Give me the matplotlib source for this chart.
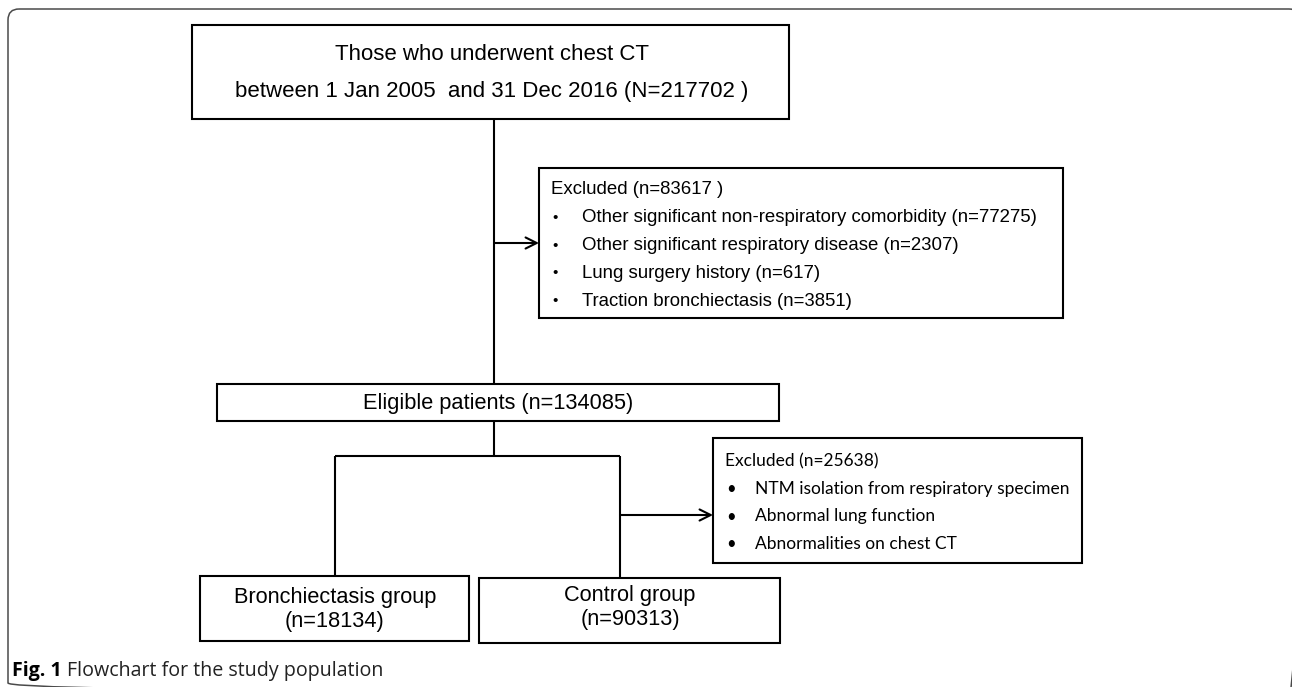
import matplotlib.pyplot as plt
from matplotlib.patches import Rectangle, FancyBboxPatch

# flowchart counts
total_n = 217702
excluded1_n = 83617
excluded1_reasons = ["Other significant non-respiratory comorbidity",
                     "Other significant respiratory disease",
                     "Lung surgery history",
                     "Traction bronchiectasis"]
excluded1_counts = [77275, 2307, 617, 3851]
eligible_n = 134085
excluded2_n = 25638
excluded2_reasons = ["NTM isolation from respiratory specimen",
                     "Abnormal lung function",
                     "Abnormalities on chest CT"]
group_names = ["Bronchiectasis group", "Control group"]
group_counts = [18134, 90313]

W, H = 1292, 687
fig = plt.figure(figsize=(W / 100, H / 100), dpi=100)
ax = fig.add_axes([0, 0, 1, 1])
ax.set_xlim(0, W)
ax.set_ylim(H, 0)
ax.axis("off")
renderer = fig.canvas.get_renderer()

MAIN = "Liberation Sans"
CAL = "Lato"
CAP = "Open Sans"
LW = 1.5


def box(x0, y0, x1, y1):
    ax.add_patch(Rectangle((x0, y0), x1 - x0, y1 - y0, fill=False,
                           edgecolor="black", lw=LW))


def line(xs, ys):
    ax.plot(xs, ys, color="black", lw=LW, solid_capstyle="butt")


def arrow(x0, x1, y):
    ax.annotate("", xy=(x1, y), xytext=(x0, y),
                arrowprops=dict(arrowstyle="->", lw=LW, color="black",
                                mutation_scale=20, shrinkA=0, shrinkB=0))


def width_px(t):
    return t.get_window_extent(renderer).width


def fit_size(s, family, target, weight="normal"):
    # font size that makes string s about `target` pixels wide
    t = ax.text(0, 0, s, fontsize=10, family=family, fontweight=weight)
    w = width_px(t)
    t.remove()
    return 10 * target / w


# outer frame
ax.add_patch(FancyBboxPatch((8, 9), 1292, 685,
                            boxstyle="round,pad=0,rounding_size=11",
                            fill=False, edgecolor="#4a4a4a", lw=1.1))

# top box
box(192, 25, 789, 119)
ax.text(492, 54, "Those who underwent chest CT", ha="center", va="center",
        fontsize=16, family=MAIN)
ax.text(492, 91, f"between 1 Jan 2005  and 31 Dec 2016 (N={total_n} )",
        ha="center", va="center", fontsize=16, family=MAIN)

line([494, 494], [119, 384])
arrow(494, 539, 243)

# first exclusion box
fs1 = 13.4
box(539, 168, 1063, 318)
ax.text(551, 190, f"Excluded (n={excluded1_n} )", va="center",
        fontsize=fs1, family=MAIN)
for i, (r, c) in enumerate(zip(excluded1_reasons, excluded1_counts)):
    y = 218 + i * 27.7
    ax.text(552, y, "\u2022", va="center", fontsize=11, family=MAIN)
    ax.text(582, y, f"{r} (n={c})", va="center", fontsize=fs1, family=MAIN)

# eligible box
box(217, 384, 779, 421)
ax.text(498, 403, f"Eligible patients (n={eligible_n})", ha="center",
        va="center", fontsize=15.7, family=MAIN)

line([494, 494], [421, 456])
line([335, 620], [456, 456])
line([335, 335], [456, 576])
line([620, 620], [456, 578])
arrow(620, 713, 515)

# second exclusion box (Calibri-like font)
fs2 = 0.95 * fit_size(f"Excluded (n={excluded2_n})", CAL, 162)
box(713, 438, 1082, 563)
ax.text(725, 461, f"Excluded (n={excluded2_n})", va="center",
        fontsize=fs2, family=CAL)
for i, r in enumerate(excluded2_reasons):
    y = 489 + i * 27.5
    ax.text(726, y, "\u2022", va="center", fontsize=12, family=CAL)
    ax.text(755, y, r, va="center", fontsize=fs2, family=CAL)

# group boxes
box(200, 576, 469, 641)
ax.text(335, 598, group_names[0], ha="center", va="center", fontsize=15.7,
        family=MAIN)
ax.text(335, 621, f"(n={group_counts[0]})", ha="center", va="center",
        fontsize=15.7, family=MAIN)
box(479, 578, 780, 643)
ax.text(630, 596, group_names[1], ha="center", va="center", fontsize=15.7,
        family=MAIN)
ax.text(630, 619, f"(n={group_counts[1]})", ha="center", va="center",
        fontsize=15.7, family=MAIN)

# caption: bold "Fig. 1" followed by regular text
cap_text = "Flowchart for the study population"
t1 = ax.text(0, 0, "Fig. 1 ", fontsize=10, fontweight="bold", family=CAP)
t2 = ax.text(0, 0, cap_text, fontsize=10, family=CAP)
scale = 371 / (width_px(t1) + width_px(t2))
t1.remove()
t2.remove()
fsc = 10 * scale
cap = ax.text(12, 671, "Fig. 1", va="center", fontsize=fsc,
              fontweight="bold", family=CAP)
x_end = 12 + width_px(cap)
ax.text(x_end + fsc * 0.35, 671, cap_text, va="center", fontsize=fsc,
        family=CAP, color="#222222")

fig.savefig("out.png", dpi=100)
